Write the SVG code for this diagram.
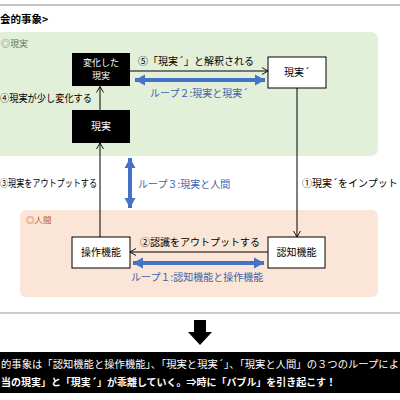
<svg xmlns="http://www.w3.org/2000/svg" width="400" height="400" viewBox="0 0 400 400">
<defs>
<marker id="open" markerUnits="userSpaceOnUse" markerWidth="10" markerHeight="10" refX="7" refY="5" orient="auto">
<path d="M1,1.5 L7,5 L1,8.5" fill="none" stroke="#000" stroke-width="0.9"/>
</marker>
<marker id="blue" markerUnits="userSpaceOnUse" markerWidth="12" markerHeight="12" refX="10" refY="6" orient="auto-start-reverse">
<path d="M0,0.5 L10,6 L0,11.5 Z" fill="#4472c4"/>
</marker>
<style>
text{font-family:"Noto Sans CJK JP","Noto Sans",sans-serif;font-size:10px;fill:#000}
.w{fill:#fff}
.b{fill:#3f62a8}
.bx{stroke:#000;stroke-width:1}
.ln{stroke:#000;stroke-width:1;fill:none;marker-end:url(#open)}
.bl{stroke:#4472c4;stroke-width:4;fill:none;marker-start:url(#blue);marker-end:url(#blue)}
</style>
</defs>
<rect width="400" height="400" fill="#fff"/>
<line x1="0" y1="5" x2="400" y2="5" stroke="#888" stroke-width="1"/>
<text x="0" y="23" style="font-weight:bold;font-size:10.5px">会的事象&gt;</text>

<g id="region-reality">
<rect x="-10" y="32" width="388" height="124" rx="7" fill="#e2efd9"/>
<text x="1" y="47" style="fill:#5b7a45;font-size:9px">◎現実</text>
</g>
<g id="region-human">
<rect x="20" y="210" width="358" height="87" rx="6" fill="#fbe5d6"/>
<text x="26" y="223" style="fill:#c55a11;font-size:8.5px">◎人間</text>
</g>

<g id="connectors">
<line class="ln" x1="130" y1="71" x2="268" y2="71"/>
<line class="ln" x1="100" y1="110" x2="100" y2="86.5"/>
<line class="ln" x1="100" y1="237" x2="100" y2="143"/>
<line class="ln" x1="297" y1="88" x2="297" y2="237"/>
<line class="ln" x1="268" y1="252" x2="130" y2="252"/>
<line class="bl" x1="135" y1="80" x2="265" y2="80"/>
<line class="bl" x1="133" y1="263" x2="264" y2="263"/>
<line class="bl" x1="130" y1="158" x2="130" y2="208"/>
<text x="138" y="65">⑤「現実´」と解釈される</text>
<text x="150" y="97" class="b">ループ２:現実と現実´</text>
<text x="0" y="102" textLength="92" lengthAdjust="spacingAndGlyphs">④現実が少し変化する</text>
<text x="0" y="187" textLength="97" lengthAdjust="spacingAndGlyphs">③現実をアウトプットする</text>
<text x="138" y="188" class="b">ループ３:現実と人間</text>
<text x="302" y="187">①現実´をインプット</text>
<text x="140" y="246">②認識をアウトプットする</text>
<text x="131" y="281" class="b">ループ１:認知機能と操作機能</text>
</g>

<g id="node-changed">
<rect x="72" y="53" width="58" height="33" fill="#000"/>
<text x="101" y="66" class="w" text-anchor="middle" style="font-size:9px">変化した</text>
<text x="101" y="79" class="w" text-anchor="middle" style="font-size:9px">現実</text>
</g>
<g id="node-reality-dash">
<rect x="268" y="57" width="58" height="31" fill="#fff" class="bx"/>
<text x="297" y="76" text-anchor="middle">現実´</text>
</g>
<g id="node-reality">
<rect x="72" y="110" width="58" height="33" fill="#000"/>
<text x="101" y="130" class="w" text-anchor="middle">現実</text>
</g>
<g id="node-operation">
<rect x="72" y="237" width="58" height="31" fill="#fff" class="bx"/>
<text x="101" y="256" text-anchor="middle">操作機能</text>
</g>
<g id="node-cognition">
<rect x="268" y="237" width="57" height="31" fill="#fff" class="bx"/>
<text x="296.5" y="256" text-anchor="middle">認知機能</text>
</g>

<line x1="0" y1="313" x2="400" y2="313" stroke="#999" stroke-width="1.2"/>
<path d="M194,320 H206 V332 H212 L200,345 L188,332 H194 Z" fill="#000"/>
<rect x="0" y="352" width="400" height="41" fill="#000"/>
<text x="1" y="368" class="w" textLength="398" lengthAdjust="spacingAndGlyphs">的事象は「認知機能と操作機能」、「現実と現実´」、「現実と人間」の３つのループによ</text>
<text x="1" y="386" class="w" style="font-weight:bold" textLength="335">当の現実」と「現実´」が乖離していく。⇒時に「バブル」を引き起こす！</text>
</svg>
